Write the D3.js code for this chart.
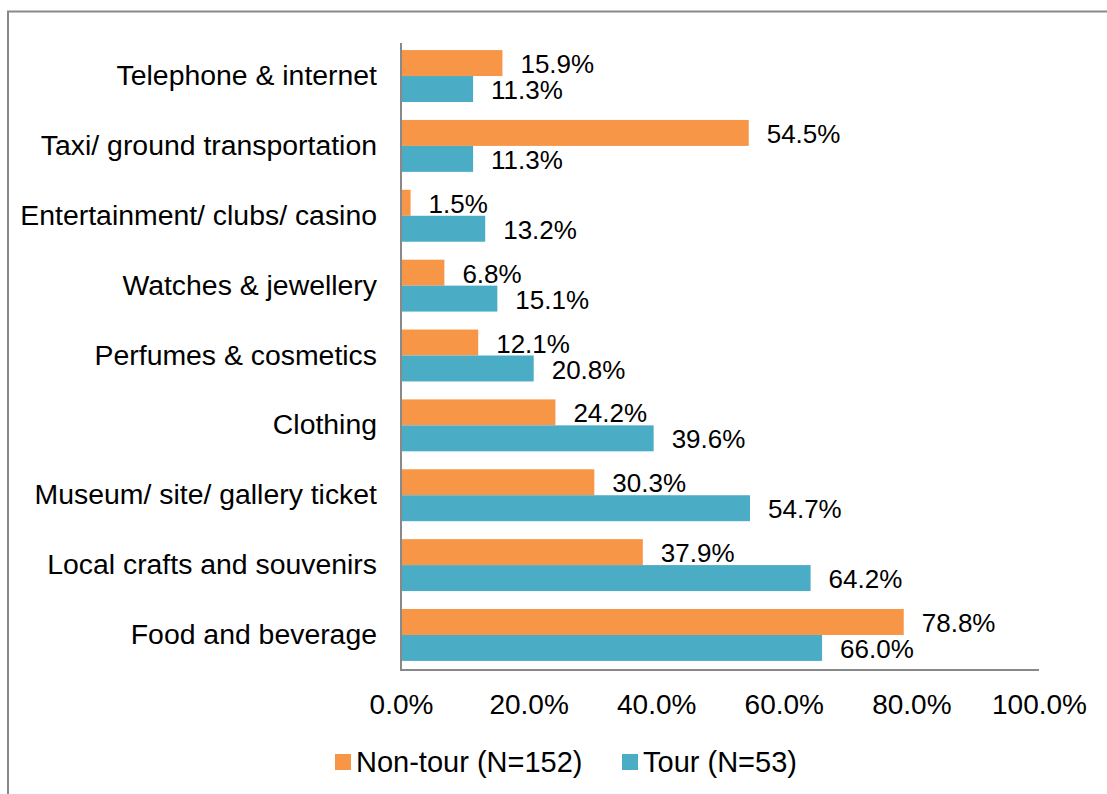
<!DOCTYPE html>
<html>
<head>
<meta charset="utf-8">
<script src="https://cdn.jsdelivr.net/npm/d3@7"></script>
<style>
  html, body { margin: 0; padding: 0; background: #fff; }
  svg { display: block; font-family: "Liberation Sans", Arial, sans-serif; }
</style>
</head>
<body>
<svg id="chart" width="1107" height="794"></svg>
<script>
// Spending categories, top to bottom
const categories = [
  "Telephone & internet",
  "Taxi/ ground transportation",
  "Entertainment/ clubs/ casino",
  "Watches & jewellery",
  "Perfumes & cosmetics",
  "Clothing",
  "Museum/ site/ gallery ticket",
  "Local crafts and souvenirs",
  "Food and beverage"
];
// Share of respondents (%)
const nonTourValues = [15.9, 54.5, 1.5, 6.8, 12.1, 24.2, 30.3, 37.9, 78.8];
const tourValues    = [11.3, 11.3, 13.2, 15.1, 20.8, 39.6, 54.7, 64.2, 66.0];
const seriesNames = ["Non-tour (N=152)", "Tour (N=53)"];
const seriesColors = ["#F79646", "#4BACC6"];
const xTicks = [0, 20, 40, 60, 80, 100];

const FONT = "Liberation Sans, Arial, sans-serif";
const svg = d3.select("#chart");

// Outer frame (only the top and left edges fall inside the canvas)
svg.append("path")
  .attr("d", "M8,1107 V11.5 H1107")
  .attr("fill", "none")
  .attr("stroke", "#898989")
  .attr("stroke-width", 2);

const plot = { left: 401, right: 1039, top: 41, bottom: 670 };

const x = d3.scaleLinear().domain([0, 100]).range([plot.left, plot.right]);
const y = d3.scaleBand().domain(categories).range([plot.top, plot.bottom]).paddingInner(0.257).paddingOuter(0.13);
const sub = d3.scaleBand().domain([0, 1]).range([0, y.bandwidth()]);

const series = [nonTourValues, tourValues];

const groups = svg.append("g").selectAll("g")
  .data(categories)
  .join("g")
  .attr("transform", d => `translate(0,${y(d)})`);

series.forEach((vals, si) => {
  groups.append("rect")
    .attr("x", x(0))
    .attr("y", sub(si))
    .attr("width", (d, i) => x(vals[i]) - x(0))
    .attr("height", sub.bandwidth())
    .attr("fill", seriesColors[si]);

  groups.append("text")
    .attr("x", (d, i) => x(vals[i]) + 18)
    .attr("y", sub(si) + sub.bandwidth() / 2 + 1)
    .attr("dy", "0.35em")
    .attr("font-size", 26)
    .attr("fill", "#000")
    .text((d, i) => vals[i].toFixed(1) + "%");
});

// Category axis
const yAxis = svg.append("g")
  .attr("transform", `translate(${plot.left},0)`)
  .call(d3.axisLeft(y).tickSize(0).tickPadding(24));
yAxis.select(".domain").attr("stroke", "#898989").attr("stroke-width", 2)
  .attr("d", `M0,${plot.top + 2}V${plot.bottom}`);
yAxis.selectAll("text").attr("font-size", 28.4).attr("fill", "#000")
  .attr("font-family", FONT);

// Value axis
const xAxis = svg.append("g")
  .attr("transform", `translate(0,${plot.bottom})`)
  .call(d3.axisBottom(x).tickValues(xTicks).tickSize(0).tickPadding(24)
    .tickFormat(d => d.toFixed(1) + "%"));
xAxis.select(".domain").attr("stroke", "#898989").attr("stroke-width", 2)
  .attr("d", `M${plot.left - 1},0H${plot.right}`);
xAxis.selectAll("text").attr("font-size", 28).attr("fill", "#000")
  .attr("font-family", FONT);

// Legend
const legendItems = [
  { name: seriesNames[0], color: seriesColors[0], x: 335 },
  { name: seriesNames[1], color: seriesColors[1], x: 622 }
];
const legend = svg.append("g").selectAll("g")
  .data(legendItems)
  .join("g")
  .attr("transform", d => `translate(${d.x},762)`);
legend.append("rect")
  .attr("x", 0).attr("y", -8)
  .attr("width", 16).attr("height", 16)
  .attr("fill", d => d.color);
legend.append("text")
  .attr("x", 21).attr("y", 0)
  .attr("dy", "0.35em")
  .attr("font-size", 29)
  .attr("fill", "#000")
  .text(d => d.name);
</script>
</body>
</html>
